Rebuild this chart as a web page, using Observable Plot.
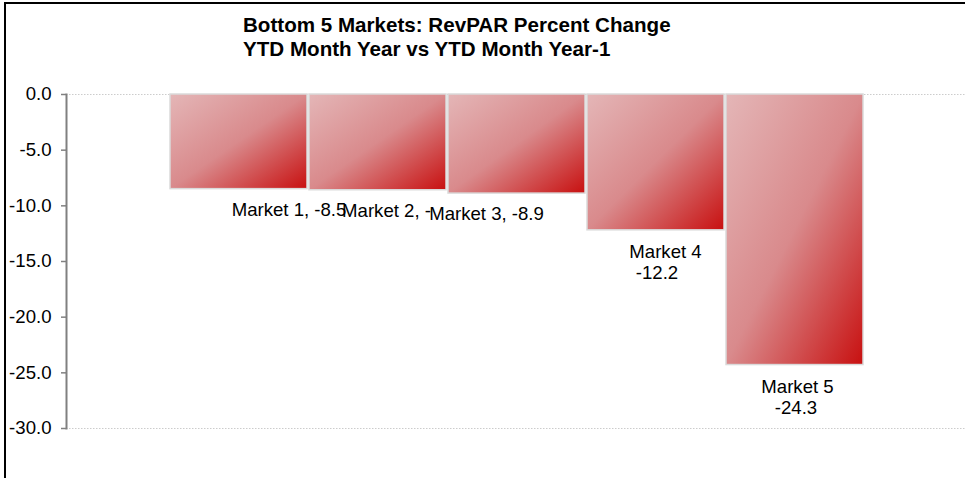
<!DOCTYPE html>
<html><head><meta charset="utf-8">
<script src="https://cdn.jsdelivr.net/npm/d3@7"></script>
<script src="https://cdn.jsdelivr.net/npm/@observablehq/plot@0.6"></script>
<style>
html,body{margin:0;padding:0;background:#fff;overflow:hidden;}
#wrap{position:relative;width:965px;height:478px;overflow:hidden;}
#chart{position:absolute;left:0;top:0;}
.bline{position:absolute;background:#000;z-index:5;}
#title{position:absolute;left:243px;top:13px;font:bold 20.6px "Liberation Sans",Arial,sans-serif;line-height:24px;color:#000;white-space:nowrap;}
</style></head><body>
<div id="wrap">
<div id="chart"></div>
<div class="bline" style="left:4px;top:2px;width:961px;height:2px;"></div>
<div class="bline" style="left:4px;top:2px;width:1.5px;height:476px;"></div>
<div id="title">Bottom 5 Markets: RevPAR Percent Change<br>YTD Month Year vs YTD Month Year-1</div>
</div>
<script>
const markets = ["Market 1", "Market 2", "Market 3", "Market 4", "Market 5"];
const values = [-8.5, -8.6, -8.9, -12.2, -24.3];
const labelLine1 = ["Market 1, -8.5", "Market 2, -", "Market 3, -8.9", "Market 4", "Market 5"];
const labelLine2 = ["", "", "", "-12.2", "-24.3"];
const yTicks = [0, -5, -10, -15, -20, -25, -30];

const data = markets.map((m, i) => ({market: m, value: values[i], line1: labelLine1[i], line2: labelLine2[i]}));

// label layout (offsets in px relative to each bar's bottom centre)
const line1Dx = [50, 8.5, -30.5, 9.5, 2.5];
const line2Dx = [0, 0, 0, 1, 1];
const line1Dy = [13.5, 13.5, 13.5, 14.3, 14.3];
const lineGap = 21;
const fs = 18.6;

const font = '"Liberation Sans", Arial, sans-serif';
const labelMarks = [];
data.forEach((d, i) => {
  labelMarks.push(Plot.text([d], {x: "market", y: "value", text: "line1", dx: line1Dx[i], dy: line1Dy[i], lineAnchor: "top", fontSize: fs, fill: "#000"}));
  if (d.line2) labelMarks.push(Plot.text([d], {x: "market", y: "value", text: "line2", dx: line2Dx[i], dy: line1Dy[i] + lineGap, lineAnchor: "top", fontSize: fs, fill: "#000"}));
});

const chart = Plot.plot({
  width: 965, height: 478,
  marginTop: 94, marginBottom: 50, marginLeft: 66, marginRight: 0,
  style: {fontFamily: font, fontSize: "18px", color: "#000", background: "transparent"},
  x: {domain: markets, range: [169.5, 864], paddingInner: 0.012, paddingOuter: 0, axis: null},
  y: {domain: [-30, 0], axis: null},
  marks: [
    Plot.ruleY([0, -30], {stroke: "#cccccc", strokeDasharray: "1.5,1.5", strokeWidth: 1}),
    Plot.axisY({ticks: yTicks, tickFormat: d => d.toFixed(1), tickSize: 5, tickPadding: 10, label: null, stroke: "#808080", strokeWidth: 1.5, fill: "#000", fontSize: fs}),
    Plot.frame({anchor: "left", stroke: "#808080", strokeWidth: 2}),
    Plot.barY(data, {x: "market", y: "value", fill: "url(#barGrad)", stroke: "#dadada", strokeWidth: 1.5}),
    ...labelMarks
  ]
});

const svg = d3.select(chart);
const defs = svg.insert("defs", ":first-child");
const g = defs.append("linearGradient").attr("id", "barGrad")
  .attr("x1", 0).attr("y1", 0).attr("x2", 1).attr("y2", 1);
g.append("stop").attr("offset", "0%").attr("stop-color", "#e4b6b7");
g.append("stop").attr("offset", "50%").attr("stop-color", "#d98a8c");
g.append("stop").attr("offset", "100%").attr("stop-color", "#c81010");

document.getElementById("chart").appendChild(chart);
</script>
</body></html>
